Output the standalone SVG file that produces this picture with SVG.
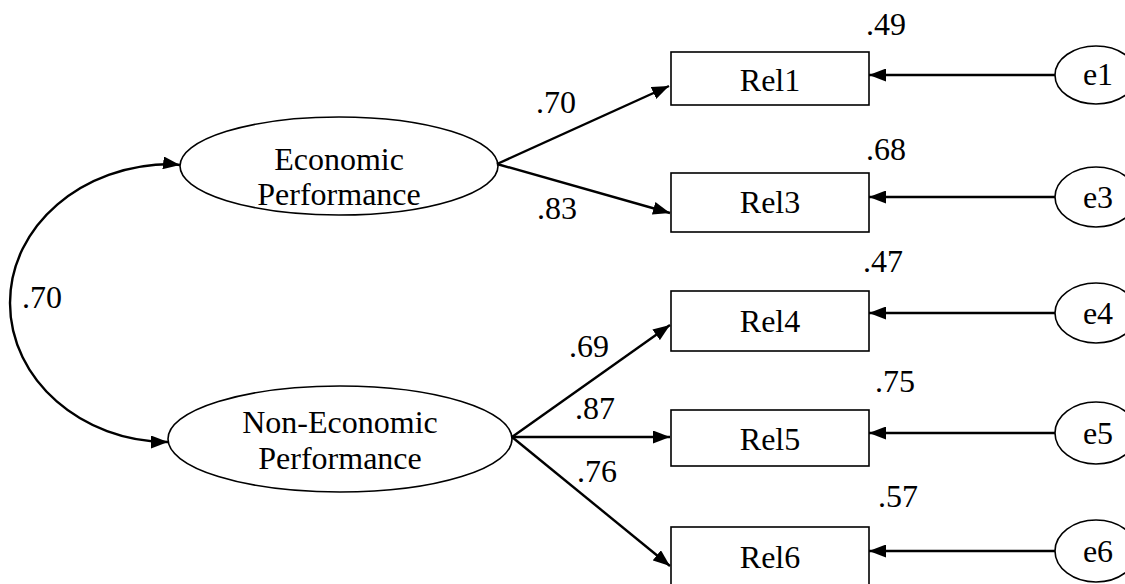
<svg xmlns="http://www.w3.org/2000/svg" width="1125" height="584" viewBox="0 0 1125 584">
  <style>
    text { font-family: 'Liberation Serif', 'DejaVu Serif', 'Times New Roman', serif; font-size: 32px; fill: #000; }
    .mid { text-anchor: middle; }
    .shape { fill: #fff; stroke: #000; stroke-width: 1.6; }
    .edge { fill: none; stroke: #000; stroke-width: 2.4; }
  </style>
  <defs>
    <marker id="arrow" markerUnits="userSpaceOnUse" viewBox="0 0 17 13" refX="17" refY="6.5" markerWidth="17" markerHeight="13" orient="auto-start-reverse">
      <path d="M0,0 L17,6.5 L0,13 z" fill="#000"/>
    </marker>
  </defs>
  <rect width="1125" height="584" fill="#fff"/>

  <!-- latent factors -->
  <g id="economic">
    <ellipse class="shape" cx="339" cy="166" rx="159" ry="49"/>
    <text class="mid" x="339" y="170">Economic</text>
    <text class="mid" x="339" y="205">Performance</text>
  </g>
  <g id="noneconomic">
    <ellipse class="shape" cx="340" cy="439" rx="172" ry="53"/>
    <text class="mid" x="340" y="433">Non-Economic</text>
    <text class="mid" x="340" y="469">Performance</text>
  </g>

  <!-- observed indicators -->
  <g id="rel1">
    <rect class="shape" x="671" y="52" width="198" height="53"/>
    <text class="mid" x="770" y="91">Rel1</text>
  </g>
  <g id="rel3">
    <rect class="shape" x="671" y="173" width="198" height="59"/>
    <text class="mid" x="770" y="213">Rel3</text>
  </g>
  <g id="rel4">
    <rect class="shape" x="671" y="291" width="198" height="60"/>
    <text class="mid" x="770" y="332">Rel4</text>
  </g>
  <g id="rel5">
    <rect class="shape" x="671" y="410" width="198" height="56"/>
    <text class="mid" x="770" y="450">Rel5</text>
  </g>
  <g id="rel6">
    <rect class="shape" x="671" y="527" width="198" height="70"/>
    <text class="mid" x="770" y="568">Rel6</text>
  </g>

  <!-- error terms -->
  <g id="e1">
    <ellipse class="shape" cx="1096" cy="75" rx="41" ry="29"/>
    <text class="mid" x="1098" y="85">e1</text>
  </g>
  <g id="e3">
    <ellipse class="shape" cx="1096" cy="197" rx="41" ry="30"/>
    <text class="mid" x="1098" y="208">e3</text>
  </g>
  <g id="e4">
    <ellipse class="shape" cx="1096" cy="313" rx="41" ry="30"/>
    <text class="mid" x="1098" y="324">e4</text>
  </g>
  <g id="e5">
    <ellipse class="shape" cx="1096" cy="433" rx="41" ry="31"/>
    <text class="mid" x="1098" y="444">e5</text>
  </g>
  <g id="e6">
    <ellipse class="shape" cx="1096" cy="551" rx="41" ry="31"/>
    <text class="mid" x="1098" y="562">e6</text>
  </g>

  <!-- paths -->
  <g id="connectors">
    <path class="edge" d="M180,165 C172,164 172,164 172,164 C82,164 10,226 10,303 C10,380 82,442 168,442" marker-start="url(#arrow)" marker-end="url(#arrow)"/>
    <line class="edge" x1="497" y1="164" x2="669" y2="86" marker-end="url(#arrow)"/>
    <line class="edge" x1="497" y1="164" x2="670" y2="213" marker-end="url(#arrow)"/>
    <line class="edge" x1="512" y1="437" x2="670" y2="325" marker-end="url(#arrow)"/>
    <line class="edge" x1="512" y1="437" x2="670" y2="437" marker-end="url(#arrow)"/>
    <line class="edge" x1="512" y1="437" x2="670" y2="566" marker-end="url(#arrow)"/>
    <line class="edge" x1="1055" y1="75" x2="869" y2="75" marker-end="url(#arrow)"/>
    <line class="edge" x1="1055" y1="197" x2="869" y2="197" marker-end="url(#arrow)"/>
    <line class="edge" x1="1055" y1="313" x2="869" y2="313" marker-end="url(#arrow)"/>
    <line class="edge" x1="1055" y1="433" x2="869" y2="433" marker-end="url(#arrow)"/>
    <line class="edge" x1="1055" y1="551" x2="869" y2="551" marker-end="url(#arrow)"/>
  </g>

  <!-- estimates -->
  <g id="labels">
    <text x="22" y="308">.70</text>
    <text x="536" y="113">.70</text>
    <text x="537" y="219">.83</text>
    <text x="569" y="357">.69</text>
    <text x="575" y="419">.87</text>
    <text x="577" y="482">.76</text>
    <text x="866" y="35">.49</text>
    <text x="866" y="160">.68</text>
    <text x="863" y="272">.47</text>
    <text x="875" y="392">.75</text>
    <text x="878" y="507">.57</text>
  </g>
</svg>
